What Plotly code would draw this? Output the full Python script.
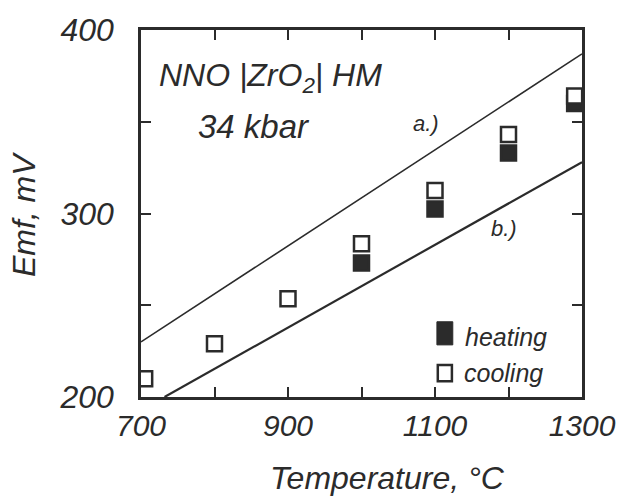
import plotly.graph_objects as go

# ---- data ----
cool_T = [705, 800, 900, 1000, 1100, 1200, 1290]
cool_emf = [210, 229, 253.5, 283.5, 312.5, 343, 364]
heat_T = [1000, 1100, 1200, 1290]
heat_emf = [273, 302.5, 333, 360]
line_a_T = [700, 1300]
line_a_emf = [230, 387]
line_b_T = [732, 1300]
line_b_emf = [200, 328]

x_tickvals = [700, 800, 900, 1000, 1100, 1200, 1300]
x_ticktext = ["700", "", "900", "", "1100", "", "1300"]
y_tickvals = [200, 250, 300, 350, 400]
y_ticktext = ["200", "", "300", "", "400"]

INK = "#2b2b2b"
FONT = dict(family="Liberation Sans", color=INK, style="italic")

fig = go.Figure()
fig.add_trace(go.Scatter(x=line_a_T, y=line_a_emf, mode="lines",
                         line=dict(color=INK, width=1.6), showlegend=False))
fig.add_trace(go.Scatter(x=line_b_T, y=line_b_emf, mode="lines",
                         line=dict(color=INK, width=2.2), showlegend=False))
fig.add_trace(go.Scatter(x=heat_T, y=heat_emf, mode="markers", name="heating",
                         marker=dict(symbol="square", size=15, color=INK,
                                     line=dict(color=INK, width=2.5)),
                         showlegend=False))
fig.add_trace(go.Scatter(x=cool_T, y=cool_emf, mode="markers", name="cooling",
                         marker=dict(symbol="square", size=15, color="white",
                                     line=dict(color=INK, width=2.5)),
                         showlegend=False))

axis_common = dict(showgrid=False, zeroline=False, showline=True, linecolor=INK,
                   linewidth=2.5, mirror="ticks", ticks="inside", ticklen=10,
                   tickwidth=2, tickcolor=INK, ticklabeloverflow="allow",
                   automargin=False)
fig.update_xaxes(range=[700, 1300], tickvals=x_tickvals, ticktext=x_ticktext,
                 ticklabelstandoff=0, tickfont=dict(size=30, **FONT), **axis_common)
fig.update_yaxes(range=[200, 400], tickvals=y_tickvals, ticktext=y_ticktext,
                 ticklabelstandoff=18, tickfont=dict(size=32, **FONT), **axis_common)


def label(text, x, y, size, data=False, xanchor="center", angle=0):
    ref = "x" if data else "paper"
    return dict(text=text, xref=ref, yref=ref.replace("x", "y"), x=x, y=y,
                xanchor=xanchor, yanchor="middle", textangle=angle,
                showarrow=False, font=dict(size=size, **FONT))


ann = [
    label("Temperature, °C", 0.558, -0.222, 32),
    label("Emf, mV", -0.265, 0.496, 32, angle=-90),
    label("NNO |ZrO<sub>2</sub>| HM", 0.293, 0.870, 32),
    label("34 kbar", 0.256, 0.737, 33),
    label("a.)", 1088, 349, 22, data=True),
    label("b.)", 1194, 292, 22, data=True),
    label("heating", 0.730, 0.163, 25, xanchor="left"),
    label("cooling", 0.728, 0.065, 25, xanchor="left"),
]

shapes = [
    dict(type="rect", xref="paper", yref="paper", x0=0.671, x1=0.707, y0=0.142, y1=0.205,
         fillcolor=INK, line=dict(color=INK, width=1)),
    dict(type="rect", xref="paper", yref="paper", x0=0.673, x1=0.705, y0=0.043, y1=0.087,
         fillcolor="white", line=dict(color=INK, width=2.5)),
]

fig.update_layout(width=617, height=497, margin=dict(l=141, r=35, t=30, b=100),
                  paper_bgcolor="white", plot_bgcolor="white",
                  annotations=ann, shapes=shapes, font=FONT)
fig.write_html("out.html", config={"displayModeBar": False},
               post_script="document.body.style.margin='0';document.body.style.overflow='hidden';")
